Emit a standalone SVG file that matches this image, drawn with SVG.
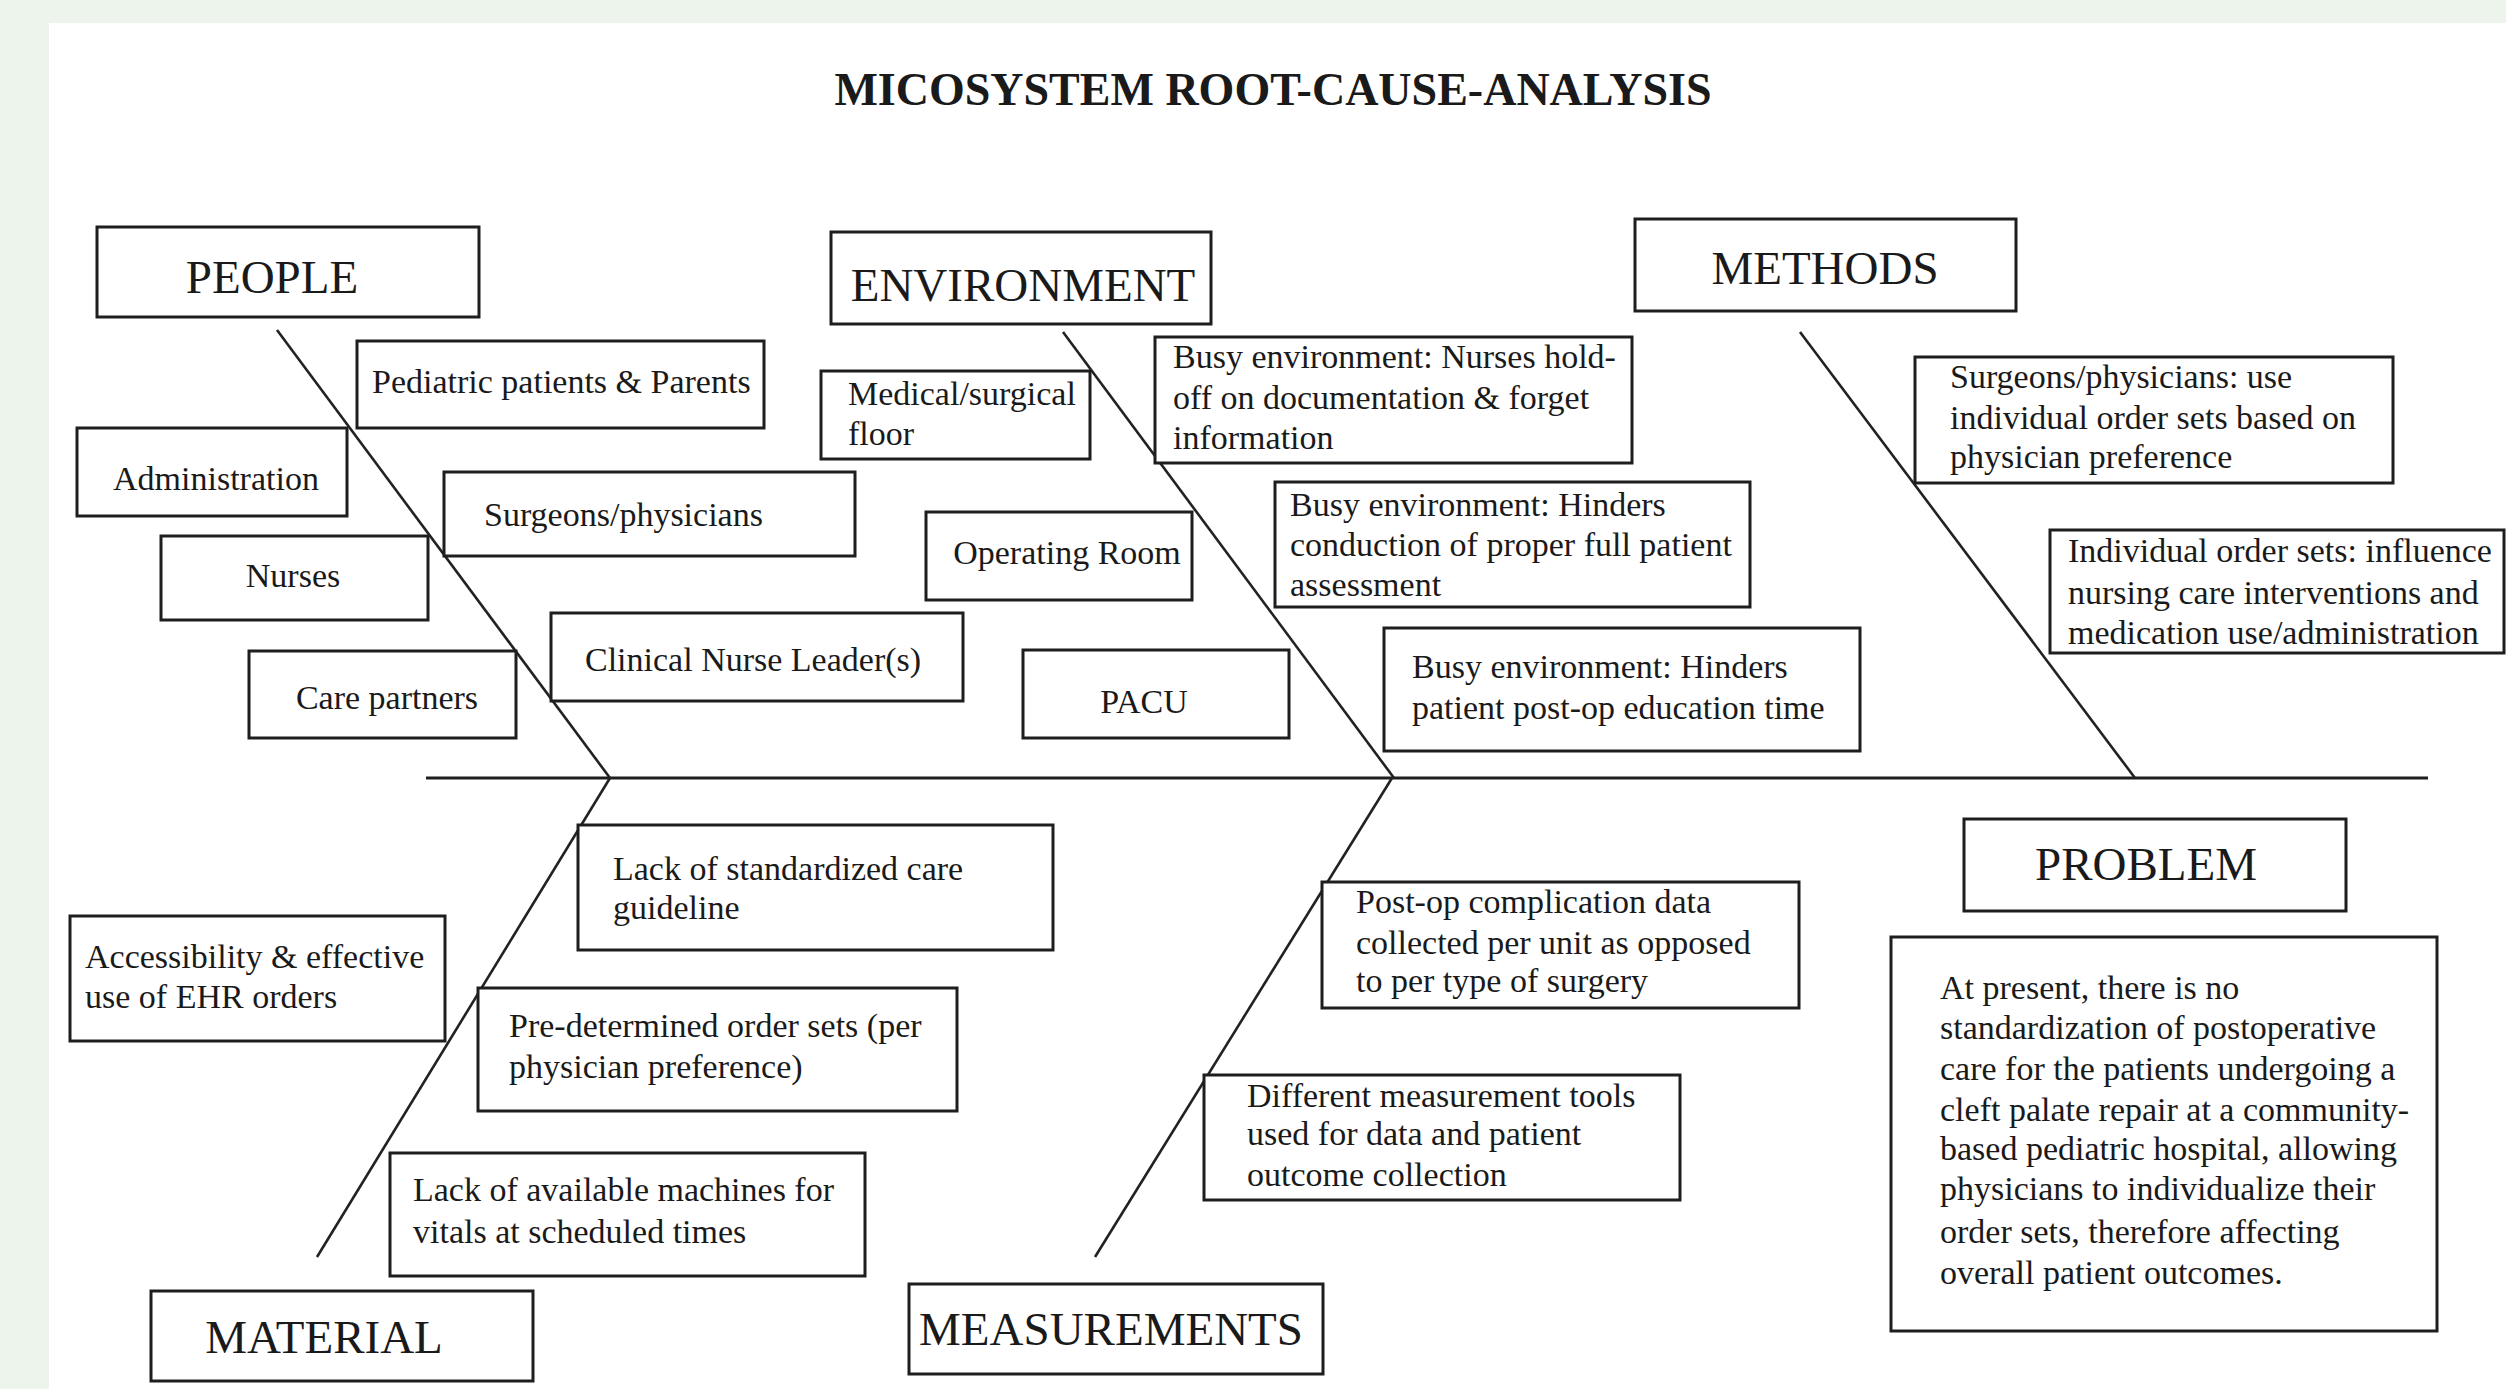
<svg xmlns="http://www.w3.org/2000/svg" width="2506" height="1389" viewBox="0 0 2506 1389">
<style>
.bg{fill:#edf4ec}
.panel{fill:#ffffff}
.box{fill:#ffffff;stroke:#1e1e1e;stroke-width:3}
.bone{stroke:#222;stroke-width:2.6;fill:none}
.spine{stroke:#1e1e1e;stroke-width:3.2;fill:none}
text{font-family:"Liberation Serif","Times New Roman",serif;fill:#1a1a1a}
.t{font-size:34px}
.h{font-size:47px}
.c{text-anchor:middle}
.title{font-size:46px;font-weight:bold;text-anchor:middle}
</style>
<rect class="bg" x="0" y="0" width="2506" height="1389"/>
<rect class="panel" x="49" y="23" width="2457" height="1366"/>
<text class="title" x="1273" y="105">MICOSYSTEM ROOT-CAUSE-ANALYSIS</text>

<g id="connectors">
<line class="spine" x1="426" y1="778" x2="2428" y2="778"/>
<line class="bone" x1="277" y1="330" x2="610" y2="778"/>
<line class="bone" x1="1063" y1="332" x2="1394" y2="778"/>
<line class="bone" x1="1800" y1="332" x2="2135" y2="778"/>
<line class="bone" x1="610" y1="778" x2="317" y2="1257"/>
<line class="bone" x1="1392" y1="778" x2="1095" y2="1257"/>
</g>

<g id="people">
<rect class="box" x="97" y="227" width="382" height="90"/>
<text class="h c" x="272" y="293">PEOPLE</text>
</g>
<g id="environment">
<rect class="box" x="831" y="232" width="380" height="92"/>
<text class="h c" x="1023" y="301">ENVIRONMENT</text>
</g>
<g id="methods">
<rect class="box" x="1635" y="219" width="381" height="92"/>
<text class="h c" x="1825" y="284">METHODS</text>
</g>
<g id="problem">
<rect class="box" x="1964" y="819" width="382" height="92"/>
<text class="h c" x="2146" y="880">PROBLEM</text>
</g>
<g id="material">
<rect class="box" x="151" y="1291" width="382" height="90"/>
<text class="h c" x="324" y="1353">MATERIAL</text>
</g>
<g id="measurements">
<rect class="box" x="909" y="1284" width="414" height="90"/>
<text class="h c" x="1111" y="1345">MEASUREMENTS</text>
</g>

<g id="pediatric">
<rect class="box" x="357" y="341" width="407" height="87"/>
<text class="t" x="372" y="393">Pediatric patients &amp; Parents</text>
</g>
<g id="administration">
<rect class="box" x="77" y="428" width="270" height="88"/>
<text class="t c" x="216" y="490">Administration</text>
</g>
<g id="surgeons">
<rect class="box" x="444" y="472" width="411" height="84"/>
<text class="t" x="484" y="526">Surgeons/physicians</text>
</g>
<g id="nurses">
<rect class="box" x="161" y="536" width="267" height="84"/>
<text class="t c" x="293" y="587">Nurses</text>
</g>
<g id="care-partners">
<rect class="box" x="249" y="651" width="267" height="87"/>
<text class="t c" x="387" y="709">Care partners</text>
</g>
<g id="cnl">
<rect class="box" x="551" y="613" width="412" height="88"/>
<text class="t" x="585" y="671">Clinical Nurse Leader(s)</text>
</g>

<g id="medsurg">
<rect class="box" x="821" y="371" width="269" height="88"/>
<text class="t" x="848" y="405">Medical/surgical</text>
<text class="t" x="848" y="445">floor</text>
</g>
<g id="or">
<rect class="box" x="926" y="512" width="266" height="88"/>
<text class="t c" x="1067" y="564">Operating Room</text>
</g>
<g id="pacu">
<rect class="box" x="1023" y="650" width="266" height="88"/>
<text class="t c" x="1144" y="713">PACU</text>
</g>
<g id="busy1">
<rect class="box" x="1155" y="337" width="477" height="126"/>
<text class="t" x="1173" y="368">Busy environment: Nurses hold-</text>
<text class="t" x="1173" y="409">off on documentation &amp; forget</text>
<text class="t" x="1173" y="449">information</text>
</g>
<g id="busy2">
<rect class="box" x="1275" y="482" width="475" height="125"/>
<text class="t" x="1290" y="516">Busy environment: Hinders</text>
<text class="t" x="1290" y="556">conduction of proper full patient</text>
<text class="t" x="1290" y="596">assessment</text>
</g>
<g id="busy3">
<rect class="box" x="1384" y="628" width="476" height="123"/>
<text class="t" x="1412" y="678">Busy environment: Hinders</text>
<text class="t" x="1412" y="719">patient post-op education time</text>
</g>

<g id="surgeons-use">
<rect class="box" x="1915" y="357" width="478" height="126"/>
<text class="t" x="1950" y="388">Surgeons/physicians: use</text>
<text class="t" x="1950" y="429">individual order sets based on</text>
<text class="t" x="1950" y="468">physician preference</text>
</g>
<g id="individual">
<rect class="box" x="2050" y="530" width="454" height="123"/>
<text class="t" x="2068" y="562">Individual order sets: influence</text>
<text class="t" x="2068" y="604">nursing care interventions and</text>
<text class="t" x="2068" y="644">medication use/administration</text>
</g>

<g id="lack-std">
<rect class="box" x="578" y="825" width="475" height="125"/>
<text class="t" x="613" y="880">Lack of standardized care</text>
<text class="t" x="613" y="919">guideline</text>
</g>
<g id="accessibility">
<rect class="box" x="70" y="916" width="375" height="125"/>
<text class="t" x="85" y="968">Accessibility &amp; effective</text>
<text class="t" x="85" y="1008">use of EHR orders</text>
</g>
<g id="predetermined">
<rect class="box" x="478" y="988" width="479" height="123"/>
<text class="t" x="509" y="1037">Pre-determined order sets (per</text>
<text class="t" x="509" y="1078">physician preference)</text>
</g>
<g id="lack-machines">
<rect class="box" x="390" y="1153" width="475" height="123"/>
<text class="t" x="413" y="1201">Lack of available machines for</text>
<text class="t" x="413" y="1243">vitals at scheduled times</text>
</g>

<g id="postop">
<rect class="box" x="1322" y="882" width="477" height="126"/>
<text class="t" x="1356" y="913">Post-op complication data</text>
<text class="t" x="1356" y="954">collected per unit as opposed</text>
<text class="t" x="1356" y="992">to per type of surgery</text>
</g>
<g id="different">
<rect class="box" x="1204" y="1075" width="476" height="125"/>
<text class="t" x="1247" y="1107">Different measurement tools</text>
<text class="t" x="1247" y="1145">used for data and patient</text>
<text class="t" x="1247" y="1186">outcome collection</text>
</g>

<g id="problem-text">
<rect class="box" x="1891" y="937" width="546" height="394"/>
<text class="t" x="1940" y="999">At present, there is no</text>
<text class="t" x="1940" y="1039">standardization of postoperative</text>
<text class="t" x="1940" y="1080">care for the patients undergoing a</text>
<text class="t" x="1940" y="1121">cleft palate repair at a community-</text>
<text class="t" x="1940" y="1160">based pediatric hospital, allowing</text>
<text class="t" x="1940" y="1200">physicians to individualize their</text>
<text class="t" x="1940" y="1243">order sets, therefore affecting</text>
<text class="t" x="1940" y="1284">overall patient outcomes.</text>
</g>
</svg>
